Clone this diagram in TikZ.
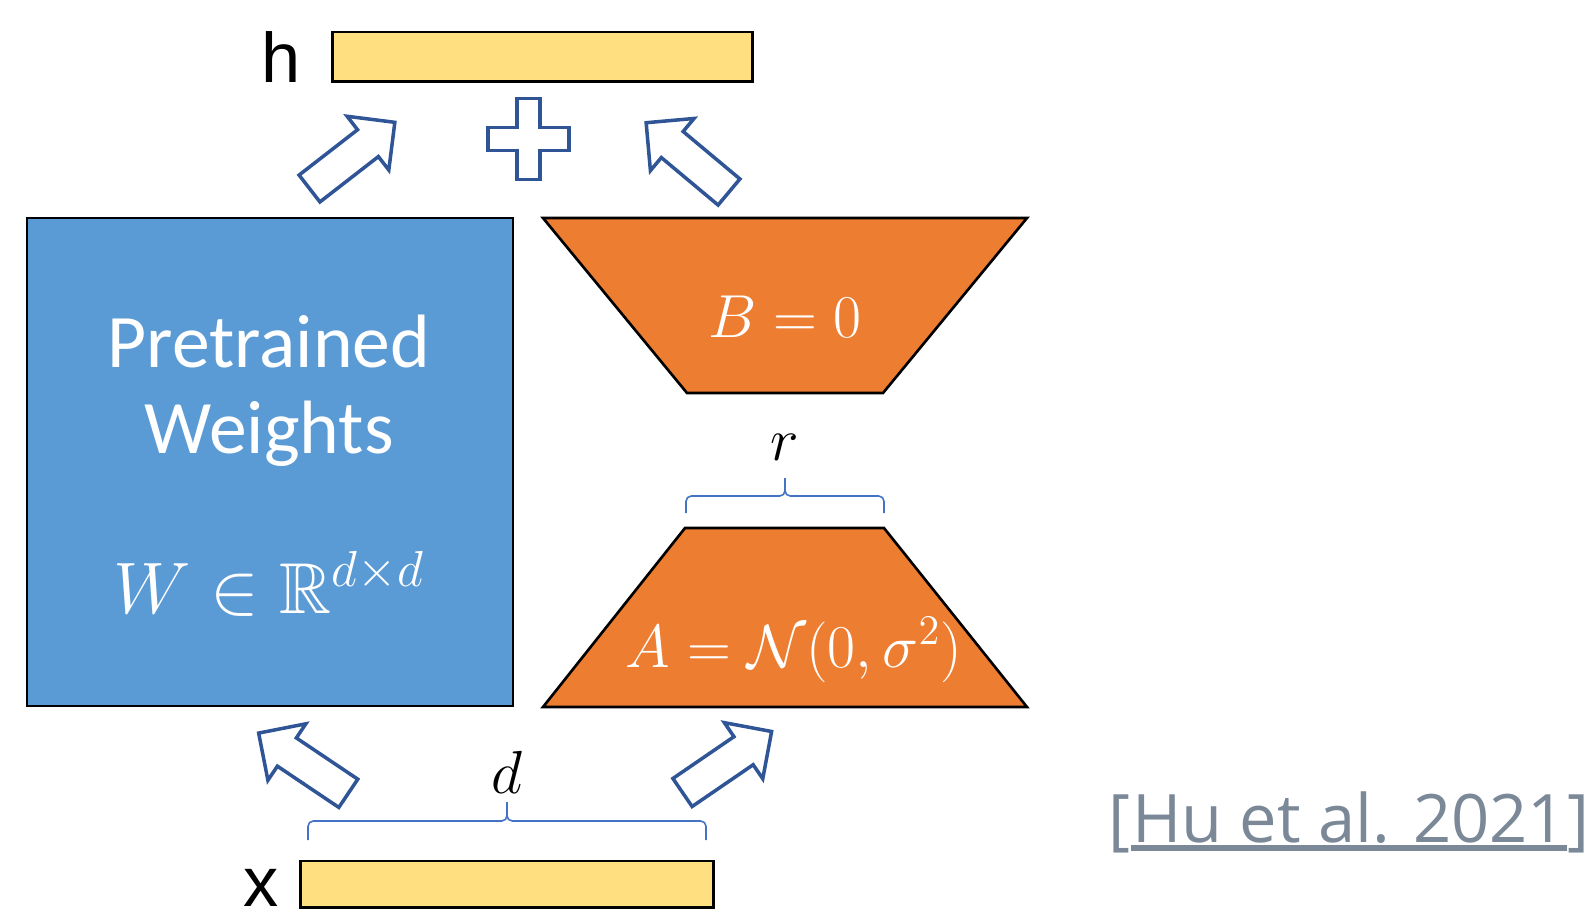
\documentclass[tikz,border=0pt]{standalone}
\usepackage{amsmath}
\usepackage{amssymb}
\usepackage{fontspec}
\usepackage{tikz}
\usetikzlibrary{positioning,calc}
\newfontfamily\calibriFont{Carlito}
\newfontfamily\arialFont{Liberation Sans}
\newfontfamily\citeFont{Open Sans}
\definecolor{loraBlue}{HTML}{5B9BD5}
\definecolor{loraOrange}{HTML}{ED7D31}
\definecolor{loraYellow}{HTML}{FFDF80}
\definecolor{loraArrow}{HTML}{2F5597}
\definecolor{loraBrace}{HTML}{4472C4}
\definecolor{loraCite}{HTML}{7A8897}
\tikzset{
    vecBar/.style={
        rectangle,
        draw=black,
        line width=0.85pt,
        fill=loraYellow,
        inner sep=0pt
    },
    wBox/.style={
        rectangle,
        draw=black,
        line width=0.75pt,
        fill=loraBlue,
        minimum width=4.86cm,
        minimum height=4.88cm
    },
    loraMat/.style={draw=black, line width=0.75pt, fill=loraOrange, line join=miter},
    hollowArr/.style={draw=loraArrow, line width=1pt, fill=white, line join=miter},
    braceLine/.style={draw=loraBrace, line width=0.45pt, rounded corners=1.5pt},
    % Text
    vecLabel/.style={font=\arialFont\fontsize{20}{24}\selectfont, inner sep=0pt, anchor=base, text depth=0pt},
    wTxt/.style={font=\calibriFont\fontsize{21.5}{25}\selectfont, text=white, inner sep=0pt, anchor=base},
    matTxt/.style={font=\fontsize{16.5}{20}\selectfont, text=white, inner sep=0pt, anchor=base},
    dimTxt/.style={font=\fontsize{17.5}{21}\selectfont, inner sep=0pt, anchor=base},
    citeTxt/.style={font=\citeFont\fontsize{19}{23}\selectfont, text=loraCite, inner sep=0pt}
}

\begin{document}
\begin{tikzpicture}[x=0.01cm, y=-0.01cm]
\useasboundingbox (0,0) rectangle (1590,911);

% Input and output vectors
\node[vecBar, minimum width=4.19cm, minimum height=0.49cm] (hVec) at (542.5,56.5) {};
\node[vecLabel] (hLbl) at (281,82) {h};
\node[vecBar, minimum width=4.12cm, minimum height=0.46cm] (xVec) at (507,884) {};
\node[vecLabel] (xLbl) at (261.5,906) {x};

% Frozen weights
\node[wBox] (wMat) at (270,462) {};
\node[wTxt] (wTxtA) at (269,367) {Pretrained};
\node[wTxt] (wTxtB) at (269,453) {Weights};
\node[matTxt, font=\fontsize{20.5}{24}\selectfont] (wTxtC) at (269,613) {$W \in \mathbb{R}^{d\times d}$};

% Low-rank factors
\coordinate (bTL) at (543,218);
\coordinate (bTR) at (1027,218);
\coordinate (bBR) at (883,393);
\coordinate (bBL) at (687,393);
\coordinate (aTL) at (685,528);
\coordinate (aTR) at (884,528);
\coordinate (aBR) at (1027,707);
\coordinate (aBL) at (543,707);
\draw[loraMat] (bTL) -- (bTR) -- (bBR) -- (bBL) -- cycle;
\draw[loraMat] (aTL) -- (aTR) -- (aBR) -- (aBL) -- cycle;
\node[matTxt] (bTxt) at (785,337) {$B = 0$};
\node[matTxt] (aTxt) at (794,667) {$A = \mathcal{N}(0,\sigma^2)$};

% Braces
\coordinate (rbL) at ($(aTL)+(1,-15)$);
\coordinate (rbR) at ($(aTR)+(0,-15)$);
\draw[braceLine] (rbL) |- ($(rbL)!0.5!(rbR)+(0,-17)$) -- ++(0,-18);
\draw[braceLine] (rbR) |- ($(rbL)!0.5!(rbR)+(0,-17)$) -- ++(0,-18);
\node[dimTxt] (rLbl) at (785,460) {$r$};

\coordinate (dbL) at (308,840);
\coordinate (dbR) at (706,840);
\draw[braceLine] (dbL) |- ($(dbL)!0.5!(dbR)+(0,-19)$) -- ++(0,-19);
\draw[braceLine] (dbR) |- ($(dbL)!0.5!(dbR)+(0,-19)$) -- ++(0,-19);
\node[dimTxt] (dLbl) at (507,793) {$d$};

% Block arrows
\foreach \tx/\ty/\ang in {309.5/188.5/37.8, 729/192/140.1, 348.3/793.3/146.1, 682.5/792.5/34.4} {
    \draw[hollowArr, shift={(\tx,\ty)}, rotate=\ang]
        (0,-17) -- (74,-17) -- (74,-34) -- (108,0) -- (74,34) -- (74,17) -- (0,17) -- cycle;
}

% Plus
\draw[hollowArr, shift={(528.5,139)}]
    (-11.5,-40.5) -- (11.5,-40.5) -- (11.5,-11.5) -- (40.5,-11.5) -- (40.5,11.5) -- (11.5,11.5)
    -- (11.5,40.5) -- (-11.5,40.5) -- (-11.5,11.5) -- (-40.5,11.5) -- (-40.5,-11.5) -- (-11.5,-11.5) -- cycle;

% Citation
\node[citeTxt, anchor=base] (citeHu) at (1349,842) {Hu et al. 2021};
\node[citeTxt, anchor=base east] (citeL) at (citeHu.base west) {[};
\node[citeTxt, anchor=base west] (citeR) at (citeHu.base east) {]};
\draw[loraCite, line width=1.7pt] ([yshift=-1.6pt]citeHu.base west) -- ([yshift=-1.6pt]citeHu.base east);
\end{tikzpicture}
\end{document}
